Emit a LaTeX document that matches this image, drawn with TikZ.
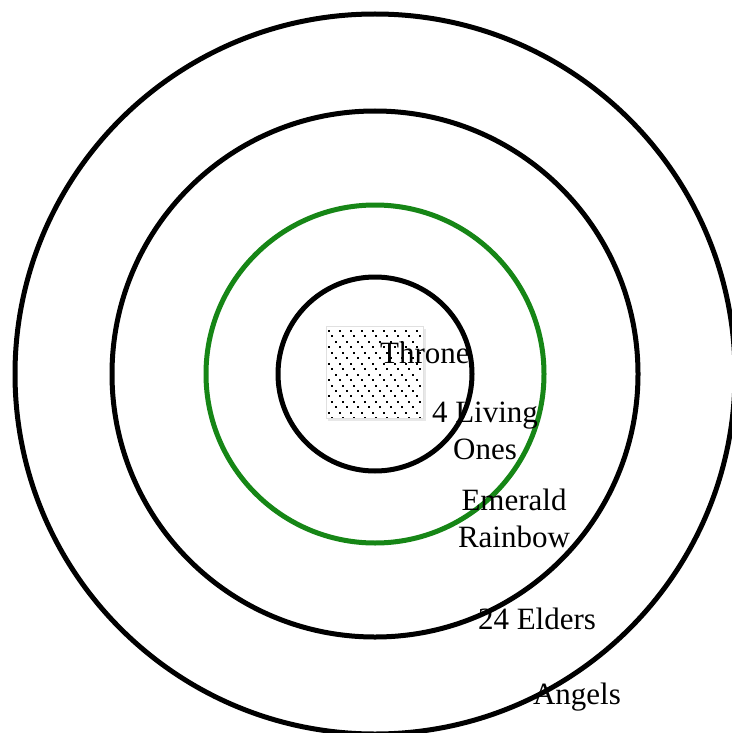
\documentclass[tikz,border=0pt]{standalone}
\usepackage{fontspec}
\setmainfont{Liberation Serif}
\definecolor{ringgreen}{RGB}{22,134,22}
\begin{document}
\begin{tikzpicture}[x=1pt,y=-1pt,
  ring/.style={circle,draw=black,line width=5pt,inner sep=0pt,fill=none},
  lbl/.style={inner sep=0pt,align=center,font=\fontsize{31}{37}\selectfont}]
\useasboundingbox (0,0) rectangle (731,733);
\fill[white] (0,0) rectangle (731,733);
% rings
\node[ring,minimum size=720pt] (angels) at (375,374) {};
\node[ring,minimum size=526pt] (elders) at (375,374) {};
\node[ring,draw=ringgreen,minimum size=338pt] (rainbow) at (375,374) {};
\node[ring,minimum size=194pt] (living) at (375,374) {};
% throne box
\fill[black!15,opacity=0.6] (328,329) rectangle (426,421);
\node[draw=black!12,fill=white,line width=0.8pt,minimum width=97pt,minimum height=92pt,inner sep=0pt] (throne) at (374.5,372) {};
\begin{scope}
\clip (327,327) rectangle (422,417);
\foreach \r in {0,...,16}{
  \pgfmathsetmacro{\yy}{331+\r*5.45}
  \pgfmathsetmacro{\off}{mod(\r,3)*3.67}
  \foreach \c in {0,...,9}{
    \fill (327.5+\off+\c*11,\yy-1) rectangle ++(2,2);
  }
}
\end{scope}
% labels
\node[lbl,anchor=west] (tl) at (380,353) {Throne};
\node[lbl] (ll) at (485,431) {4 Living\\Ones};
\node[lbl] (rl) at (514,518) {Emerald\\Rainbow};
\node[lbl] (el) at (537,619) {24 Elders};
\node[lbl] (al) at (577,697) {Angels};
\end{tikzpicture}
\end{document}
